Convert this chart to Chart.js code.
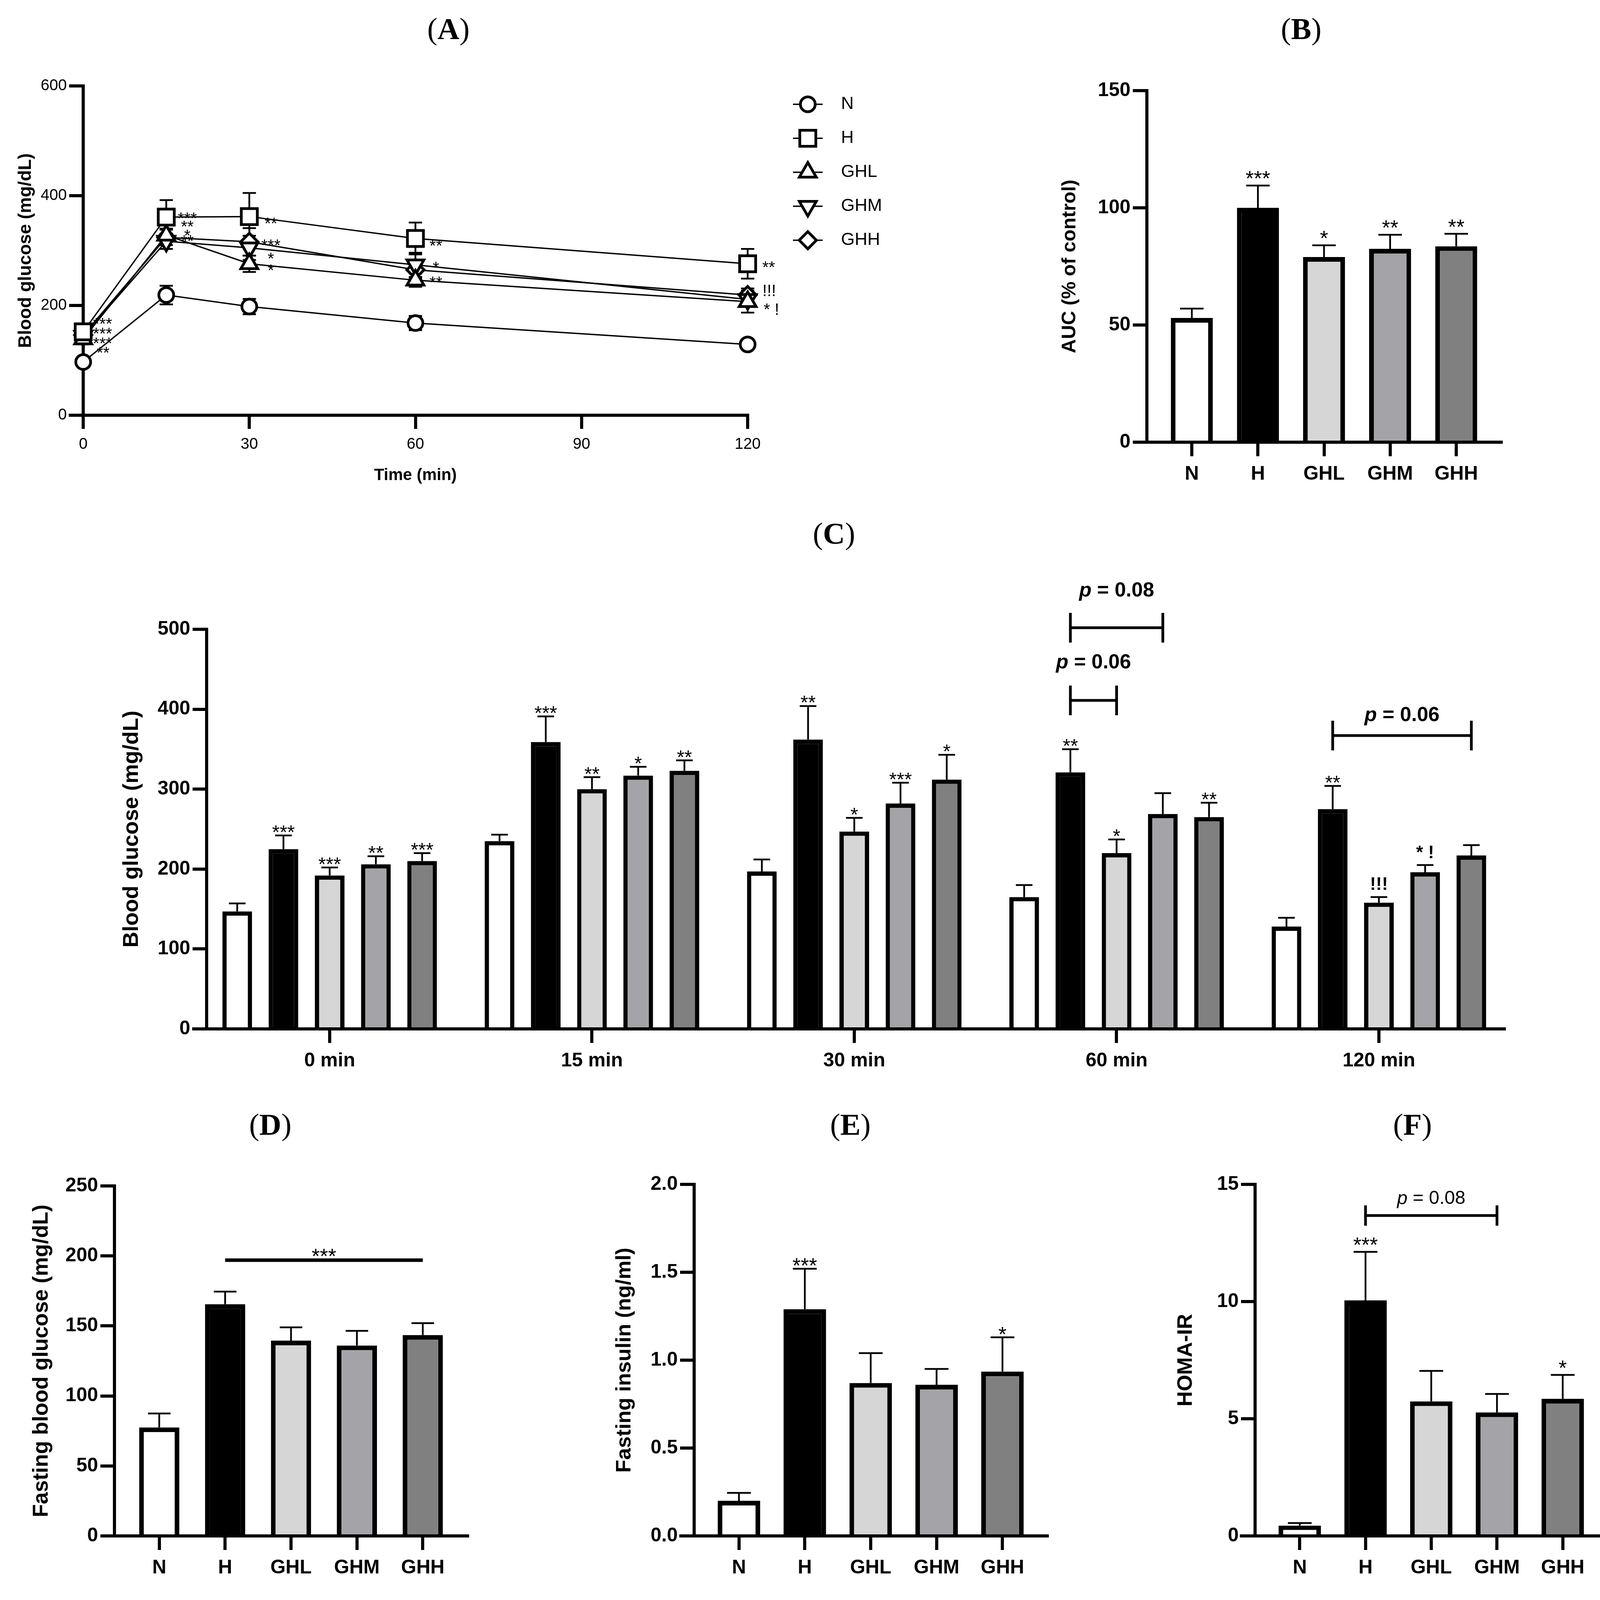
<!DOCTYPE html>
<html>
<head>
<meta charset="utf-8">
<title>OGTT, AUC, fasting glucose, insulin and HOMA-IR</title>
<script src="https://cdn.jsdelivr.net/npm/chart.js@4.4.0/dist/chart.umd.min.js"></script>
<style>
  html, body { margin: 0; padding: 0; background: #fff; }
  body { width: 4159px; height: 4100px; position: relative; overflow: hidden; }
  .ptitle { position: absolute; font-family: 'Liberation Serif', 'Times New Roman', serif; font-size: 78px;
            color: #000; transform: translate(-50%, -50%); white-space: nowrap; }
</style>
</head>
<body>
<div class="ptitle" style="left:1148px; top:74px">(<b>A</b>)</div>
<div class="ptitle" style="left:3331px; top:74px">(<b>B</b>)</div>
<div class="ptitle" style="left:2135px; top:1366px">(<b>C</b>)</div>
<div class="ptitle" style="left:692px; top:2879px">(<b>D</b>)</div>
<div class="ptitle" style="left:2177px; top:2879px">(<b>E</b>)</div>
<div class="ptitle" style="left:3616px; top:2879px">(<b>F</b>)</div>
<script>
// ---- data ----
var groupNames = ['N', 'H', 'GHL', 'GHM', 'GHH'];

// (A) glucose curves over time
var timePoints = [0, 15, 30, 60, 120];
var curveN = [97, 219, 198, 168, 129];
var curveH = [152, 361, 362, 322, 276];
var curveGHL = [139, 328, 276, 246, 207];
var curveGHM = [144, 317, 305, 274, 211];
var curveGHH = [146, 324, 316, 265, 219];
var curveErrN = [6, 17, 14, 13, 5];
var curveErrH = [10, 31, 43, 29, 27];
var curveErrGHL = [10, 12, 15, 12, 20];
var curveErrGHM = [8, 14, 22, 22, 12];
var curveErrGHH = [8, 14, 25, 16, 12];
var curveMarks = [
  {x: 3.5, y: 171, text: '***'}, {x: 3.5, y: 153, text: '***'},
  {x: 3.5, y: 135, text: '***'}, {x: 3.6, y: 118, text: '**'},
  {x: 18.8, y: 363, text: '***'}, {x: 18.8, y: 348, text: '**'},
  {x: 18.8, y: 332, text: '*'}, {x: 18.8, y: 322, text: '**'},
  {x: 33.9, y: 354, text: '**'}, {x: 33.9, y: 314, text: '***'},
  {x: 33.9, y: 290, text: '*'}, {x: 33.9, y: 268, text: '*'},
  {x: 63.7, y: 313, text: '**'}, {x: 63.7, y: 273, text: '*'},
  {x: 63.7, y: 246, text: '**'},
  {x: 123.8, y: 274, text: '**'}, {x: 123.9, y: 225, text: '!!!'},
  {x: 124.3, y: 191, text: '* !'}
];

// (B) area under the curve
var aucValues = [53, 100, 79, 82.5, 83.6];
var aucErr = [4, 9.5, 5, 6, 5.3];
var aucSig = ['', '***', '*', '**', '**'];

// (C) glucose at each time point
var ogttLabels = ['0 min', '15 min', '30 min', '60 min', '120 min'];
var ogttN = [147, 235, 197, 165, 128];
var ogttH = [225, 359, 362, 321, 275];
var ogttGHL = [192, 300, 247, 220, 158];
var ogttGHM = [206, 317, 282, 269, 196];
var ogttGHH = [210, 323, 312, 265, 217];
var ogttErrN = [10, 8, 15, 15, 11];
var ogttErrH = [17, 32, 42, 29, 29];
var ogttErrGHL = [10, 15, 17, 17, 7];
var ogttErrGHM = [10, 11, 26, 26, 9];
var ogttErrGHH = [10, 13, 31, 18, 13];
var ogttSigN = ['', '', '', '', ''];
var ogttSigH = ['***', '***', '**', '**', '**'];
var ogttSigGHL = ['***', '**', '*', '*', '!!!'];
var ogttSigGHM = ['**', '*', '***', '', '* !'];
var ogttSigGHH = ['***', '**', '*', '**', ''];
var ogttBrackets = [
  {group: 3, from: 1, to: 3, y: 502, label: 'p = 0.08', labelY: 548},
  {group: 3, from: 1, to: 2, y: 411, label: 'p = 0.06', labelY: 458},
  {group: 4, from: 1, to: 4, y: 367, label: 'p = 0.06', labelY: 392}
];

// (D) fasting blood glucose
var fbgValues = [77.5, 165.5, 139.5, 136, 143.5];
var fbgErr = [10, 9, 9.5, 10.5, 8.5];
var fbgBrackets = [{from: 1, to: 4, y: 197, label: '***'}];

// (E) fasting insulin
var insulinValues = [0.2, 1.29, 0.87, 0.86, 0.935];
var insulinErr = [0.045, 0.23, 0.17, 0.09, 0.195];
var insulinSig = ['', '***', '', '', '*'];

// (F) HOMA-IR
var homaValues = [0.44, 10.05, 5.74, 5.27, 5.85];
var homaErr = [0.11, 2.07, 1.3, 0.79, 1.02];
var homaSig = ['', '***', '', '', '*'];
var homaBrackets = [{from: 1, to: 3, y: 13.67, label: 'p = 0.08', labelY: 14.38}];

// ---- look ----
var family = "'Liberation Sans', Arial, sans-serif";
var groupFills = ['#ffffff', '#000000', '#d6d6d6', '#a4a4a8', '#808080'];
var curveStyles = [
  {pointStyle: 'circle', radius: 19, rotation: 0},
  {pointStyle: 'rect', radius: 29, rotation: 0},
  {pointStyle: 'triangle', radius: 25, rotation: 0},
  {pointStyle: 'triangle', radius: 25, rotation: 180},
  {pointStyle: 'rectRot', radius: 22, rotation: 0}
];
var markerBorder = 7;

Chart.defaults.font.family = family;
Chart.defaults.color = '#000';

function makeCanvas(box) {
  var canvas = document.createElement('canvas');
  canvas.width = box.width;
  canvas.height = box.height;
  canvas.style.position = 'absolute';
  canvas.style.left = box.left + 'px';
  canvas.style.top = box.top + 'px';
  document.body.appendChild(canvas);
  return canvas.getContext('2d');
}

function baseOptions(box, area, scales) {
  return {
    responsive: false, animation: false, devicePixelRatio: 1, events: [],
    layout: {padding: {top: area.top - box.top, right: box.left + box.width - area.right, bottom: 0, left: 0}},
    plugins: {legend: {display: false}, tooltip: {enabled: false}},
    scales: scales
  };
}

function yAxis(box, area, o) {
  var ticks = {stepSize: o.step, padding: 6, font: {size: o.tickSize, weight: o.tickWeight}};
  if (o.format) ticks.callback = o.format;
  return {
    type: 'linear', min: o.min, max: o.max,
    afterFit: function (s) { s.width = area.left - box.left; },
    border: {color: '#000', width: 8},
    grid: {drawOnChartArea: false, color: '#000', lineWidth: 8, tickLength: 36},
    ticks: ticks,
    title: {display: true, text: o.title, font: {size: o.titleSize, weight: 'bold', lineHeight: 1.2},
            padding: {top: o.titleX - box.left - 0.6 * o.titleSize, bottom: 0}}
  };
}

// linear axis with one tick per group, so the bars can sit a little in from both ends
function groupAxis(box, area, names, lo, hi) {
  return {
    type: 'linear', min: lo, max: hi, offset: false,
    afterFit: function (s) { s.height = box.top + box.height - area.bottom; },
    afterBuildTicks: function (s) { s.ticks = names.map(function (n, i) { return {value: i}; }); },
    border: {color: '#000', width: 8, z: 1},
    grid: {drawOnChartArea: false, offset: false, color: '#000', lineWidth: 8, tickLength: 36},
    ticks: {padding: 16, autoSkip: false, maxRotation: 0, font: {size: 50, weight: 'bold'},
            callback: function (v) { return names[v]; }}
  };
}

function barX(chart, k, group) {
  return group === undefined ? chart.getDatasetMeta(0).data[k].x : chart.getDatasetMeta(k).data[group].x;
}

function drawWhiskers(chart, both) {
  var ctx = chart.ctx, ys = chart.scales.y;
  ctx.save();
  ctx.strokeStyle = '#000';
  ctx.lineWidth = 4.5;
  chart.data.datasets.forEach(function (ds, di) {
    if (!ds.errors) return;
    chart.getDatasetMeta(di).data.forEach(function (el, i) {
      var v = ds.data[i].y, e = ds.errors[i];
      var top = ys.getPixelForValue(v + e);
      var bottom = both ? ys.getPixelForValue(v - e) : el.y;
      var half = both ? 17 : el.width * 0.28;
      ctx.beginPath();
      ctx.moveTo(el.x, bottom); ctx.lineTo(el.x, top);
      ctx.moveTo(el.x - half, top); ctx.lineTo(el.x + half, top);
      if (both) { ctx.moveTo(el.x - half, bottom); ctx.lineTo(el.x + half, bottom); }
      ctx.stroke();
    });
  });
  ctx.restore();
}

function drawPValue(ctx, text, cx, cy, size, weight) {
  var head = text.charAt(0), rest = text.slice(1);
  var fHead = 'italic ' + weight + ' ' + size + 'px ' + family;
  var fRest = weight + ' ' + size + 'px ' + family;
  ctx.font = fHead; var w1 = ctx.measureText(head).width;
  ctx.font = fRest; var w2 = ctx.measureText(rest).width;
  var x = cx - (w1 + w2) / 2;
  ctx.textAlign = 'left'; ctx.textBaseline = 'middle';
  ctx.font = fHead; ctx.fillText(head, x, cy);
  ctx.font = fRest; ctx.fillText(rest, x + w1, cy);
}

function extras(cfg) {
  return {
    id: 'extras',
    beforeDatasetsDraw: function (chart) {
      if (cfg.whiskers === 'both') drawWhiskers(chart, true);
    },
    afterDatasetsDraw: function (chart) {
      var ctx = chart.ctx, a = chart.chartArea, ys = chart.scales.y, xs = chart.scales.x;
      if (cfg.whiskers === 'up') drawWhiskers(chart, false);
      ctx.save();
      ctx.fillStyle = '#000';
      ctx.strokeStyle = '#000';
      // x axis runs on to the left of the y axis by one tick length
      ctx.lineWidth = 8;
      ctx.beginPath(); ctx.moveTo(a.left - cfg.stub, a.bottom); ctx.lineTo(a.left + 4, a.bottom); ctx.stroke();

      if (cfg.sigSize) {
        chart.data.datasets.forEach(function (ds, di) {
          if (!ds.sig) return;
          var meta = chart.getDatasetMeta(di);
          ds.sig.forEach(function (txt, i) {
            if (!txt) return;
            var capY = ys.getPixelForValue(ds.data[i].y + ds.errors[i]);
            var bang = txt.indexOf('!') >= 0;
            ctx.font = (bang ? 'bold ' : '') + (bang ? cfg.bangSize : cfg.sigSize) + 'px ' + family;
            ctx.textAlign = 'center'; ctx.textBaseline = 'alphabetic';
            ctx.fillText(txt, meta.data[i].x, capY + (bang ? -18 : cfg.sigShift));
          });
        });
      }

      (cfg.brackets || []).forEach(function (b) {
        var x1 = barX(chart, b.from, b.group), x2 = barX(chart, b.to, b.group);
        var y = ys.getPixelForValue(b.y);
        ctx.lineWidth = cfg.bracketWidth;
        ctx.beginPath();
        ctx.moveTo(x1, y); ctx.lineTo(x2, y);
        if (cfg.bracketTick) {
          ctx.moveTo(x1, y - cfg.bracketTick); ctx.lineTo(x1, y + cfg.bracketTick);
          ctx.moveTo(x2, y - cfg.bracketTick); ctx.lineTo(x2, y + cfg.bracketTick);
        }
        ctx.stroke();
        if (b.label.charAt(0) === 'p') {
          drawPValue(ctx, b.label, (x1 + x2) / 2, ys.getPixelForValue(b.labelY), cfg.pSize, cfg.pWeight);
        } else {
          ctx.font = cfg.sigSize + 'px ' + family;
          ctx.textAlign = 'center'; ctx.textBaseline = 'alphabetic';
          ctx.fillText(b.label, (x1 + x2) / 2, y + 8);
        }
      });

      (cfg.marks || []).forEach(function (m) {
        ctx.font = cfg.markSize + 'px ' + family;
        ctx.textAlign = 'center'; ctx.textBaseline = 'middle';
        var lift = m.text.indexOf('!') >= 0 ? 0 : 0.2 * cfg.markSize;
        ctx.fillText(m.text, xs.getPixelForValue(m.x), ys.getPixelForValue(m.y) + lift);
      });

      if (cfg.legend) {
        chart.data.datasets.forEach(function (ds, k) {
          var st = curveStyles[k];
          var lx = a.right + 154, ly = a.top + 47 + k * 87;
          ctx.lineWidth = 3.5;
          ctx.beginPath(); ctx.moveTo(lx - 38, ly); ctx.lineTo(lx + 38, ly); ctx.stroke();
          ctx.fillStyle = '#fff';
          ctx.lineWidth = markerBorder;
          Chart.helpers.drawPoint(ctx, {pointStyle: st.pointStyle, radius: st.radius, rotation: st.rotation, borderWidth: markerBorder}, lx, ly);
          ctx.fillStyle = '#000';
          ctx.font = '45px ' + family;
          ctx.textAlign = 'left'; ctx.textBaseline = 'middle';
          ctx.fillText(ds.label, lx + 85, ly);
        });
      }
      ctx.restore();
    }
  };
}

// ---- (A) ----
var curveValues = [curveN, curveH, curveGHL, curveGHM, curveGHH];
var curveErrors = [curveErrN, curveErrH, curveErrGHL, curveErrGHM, curveErrGHH];
var boxA = {left: 0, top: 150, width: 2400, height: 1150};
var areaA = {left: 213, top: 220, right: 1914, bottom: 1063};
var optsA = baseOptions(boxA, areaA, {
  x: {
    type: 'linear', min: 0, max: 120,
    afterFit: function (s) { s.height = boxA.top + boxA.height - areaA.bottom; },
    border: {color: '#000', width: 8},
    grid: {drawOnChartArea: false, color: '#000', lineWidth: 8, tickLength: 35},
    ticks: {stepSize: 30, padding: 16, font: {size: 40}},
    title: {display: true, text: 'Time (min)', font: {size: 42, weight: 'bold', lineHeight: 1.2},
            padding: {top: 0, bottom: boxA.top + boxA.height - 1217 - 0.6 * 42}}
  },
  y: yAxis(boxA, areaA, {min: 0, max: 600, step: 200, tickSize: 40, tickWeight: 'normal',
                         title: 'Blood glucose (mg/dL)', titleSize: 46, titleX: 66})
});
new Chart(makeCanvas(boxA), {
  type: 'line',
  data: {
    datasets: groupNames.map(function (name, k) {
      var st = curveStyles[k];
      return {
        label: name,
        data: timePoints.map(function (t, i) { return {x: t, y: curveValues[k][i]}; }),
        errors: curveErrors[k],
        borderColor: '#000', borderWidth: 3.5, tension: 0, clip: false,
        pointStyle: st.pointStyle, pointRadius: st.radius, pointRotation: st.rotation,
        pointBackgroundColor: '#fff', pointBorderColor: '#000', pointBorderWidth: markerBorder
      };
    })
  },
  options: optsA,
  plugins: [extras({whiskers: 'both', stub: 37, marks: curveMarks, markSize: 42, legend: true})]
});

// ---- single-series bar panels ----
function barPanel(box, area, o) {
  var opts = baseOptions(box, area, {
    x: groupAxis(box, area, groupNames, -0.68, 4.68),
    y: yAxis(box, area, o.y)
  });
  new Chart(makeCanvas(box), {
    type: 'bar',
    data: {
      datasets: [{
        data: o.values.map(function (v, i) { return {x: i, y: v}; }),
        errors: o.errors, sig: o.sig,
        backgroundColor: groupFills, borderColor: '#000', borderWidth: 12, borderSkipped: 'bottom',
        barPercentage: o.barPct, categoryPercentage: 1
      }]
    },
    options: opts,
    plugins: [extras(o.extras)]
  });
}

// (B)
barPanel({left: 2600, top: 130, width: 1559, height: 1170}, {left: 2936, top: 232, right: 3843, bottom: 1132}, {
  values: aucValues, errors: aucErr, sig: aucSig, barPct: 0.635,
  y: {min: 0, max: 150, step: 50, tickSize: 50, tickWeight: 'bold', title: 'AUC (% of control)', titleSize: 50, titleX: 2739},
  extras: {whiskers: 'up', stub: 33, sigSize: 54, bangSize: 46, sigShift: 0}
});

// (D)
barPanel({left: 0, top: 2960, width: 1300, height: 1140}, {left: 293, top: 3036, right: 1197, bottom: 3932}, {
  values: fbgValues, errors: fbgErr, barPct: 0.61,
  y: {min: 0, max: 250, step: 50, tickSize: 50, tickWeight: 'bold', title: 'Fasting blood glucose (mg/dL)', titleSize: 55, titleX: 107},
  extras: {whiskers: 'up', stub: 34, sigSize: 54, brackets: fbgBrackets, bracketWidth: 9, bracketTick: 0}
});

// (E)
barPanel({left: 1400, top: 2960, width: 1380, height: 1140}, {left: 1777, top: 3032, right: 2681, bottom: 3932}, {
  values: insulinValues, errors: insulinErr, sig: insulinSig, barPct: 0.645,
  y: {min: 0, max: 2, step: 0.5, tickSize: 50, tickWeight: 'bold', title: 'Fasting insulin (ng/ml)', titleSize: 54, titleX: 1599,
      format: function (v) { return v.toFixed(1); }},
  extras: {whiskers: 'up', stub: 38, sigSize: 54, bangSize: 46, sigShift: 10}
});

// (F)
barPanel({left: 2800, top: 2960, width: 1359, height: 1140}, {left: 3213, top: 3032, right: 4115, bottom: 3932}, {
  values: homaValues, errors: homaErr, sig: homaSig, barPct: 0.645,
  y: {min: 0, max: 15, step: 5, tickSize: 50, tickWeight: 'bold', title: 'HOMA-IR', titleSize: 54, titleX: 3036},
  extras: {whiskers: 'up', stub: 39, sigSize: 54, bangSize: 46, sigShift: 0, brackets: homaBrackets,
           bracketWidth: 7, bracketTick: 26, pSize: 48, pWeight: 'normal'}
});

// ---- (C) grouped bars ----
var ogttValues = [ogttN, ogttH, ogttGHL, ogttGHM, ogttGHH];
var ogttErrors = [ogttErrN, ogttErrH, ogttErrGHL, ogttErrGHM, ogttErrGHH];
var ogttSigs = [ogttSigN, ogttSigH, ogttSigGHL, ogttSigGHM, ogttSigGHH];
var boxC = {left: 250, top: 1420, width: 3750, height: 1360};
var areaC = {left: 529, top: 1611, right: 3851, bottom: 2634};
var optsC = baseOptions(boxC, areaC, {
  x: groupAxis(boxC, areaC, ogttLabels, -0.469, 4.478),
  y: yAxis(boxC, areaC, {min: 0, max: 500, step: 100, tickSize: 50, tickWeight: 'bold',
                         title: 'Blood glucose (mg/dL)', titleSize: 56, titleX: 338})
});
new Chart(makeCanvas(boxC), {
  type: 'bar',
  data: {
    datasets: groupNames.map(function (name, k) {
      return {
        label: name,
        data: ogttValues[k].map(function (v, i) { return {x: i, y: v}; }),
        errors: ogttErrors[k], sig: ogttSigs[k],
        backgroundColor: groupFills[k], borderColor: '#000', borderWidth: 11, borderSkipped: 'bottom',
        barPercentage: 0.642, categoryPercentage: 0.881
      };
    })
  },
  options: optsC,
  plugins: [extras({whiskers: 'up', stub: 37, sigSize: 50, bangSize: 46, sigShift: 9, brackets: ogttBrackets,
                    bracketWidth: 7, bracketTick: 38, pSize: 52, pWeight: 'bold'})]
});
</script>
</body>
</html>
